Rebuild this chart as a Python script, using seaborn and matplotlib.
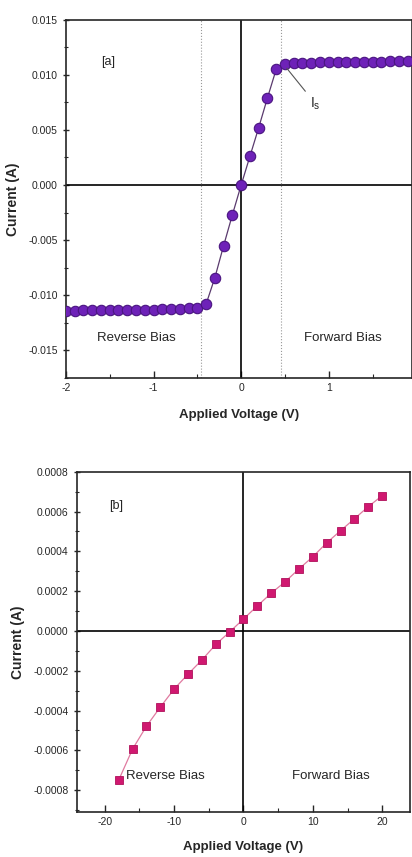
import pandas as pd
import matplotlib.pyplot as plt
import seaborn as sns
from matplotlib.ticker import MultipleLocator, FormatStrFormatter

# --- dados painel [a] (diodo, -2 a 2 V) ---
volt_a = [-2.0, -1.9, -1.8, -1.7, -1.6, -1.5, -1.4, -1.3, -1.2, -1.1, -1.0,
          -0.9, -0.8, -0.7, -0.6, -0.5, -0.4, -0.3, -0.2, -0.1, 0.0,
          0.1, 0.2, 0.3, 0.4, 0.5, 0.6, 0.7, 0.8, 0.9, 1.0,
          1.1, 1.2, 1.3, 1.4, 1.5, 1.6, 1.7, 1.8, 1.9]
curr_a = [-0.01140, -0.01139, -0.01138, -0.01137, -0.01136, -0.01135, -0.01134,
          -0.01133, -0.01132, -0.01131, -0.01130, -0.01128, -0.01126, -0.01124,
          -0.01120, -0.01112, -0.01080, -0.00840, -0.00550, -0.00270, 0.0,
          0.00260, 0.00520, 0.00790, 0.01050, 0.01100, 0.01105, 0.01108,
          0.01110, 0.01112, 0.01114, 0.01115, 0.01116, 0.01117, 0.01118,
          0.01119, 0.01120, 0.01121, 0.01122, 0.01123]

# --- dados painel [b] (-18 a 20 V) ---
volt_b = [-18, -16, -14, -12, -10, -8, -6, -4, -2, 0,
          2, 4, 6, 8, 10, 12, 14, 16, 18, 20]
curr_b = [-0.000750, -0.000594, -0.000479, -0.000383, -0.000292, -0.000217,
          -0.000146, -0.000068, -0.000005, 0.000060, 0.000126, 0.000190,
          0.000247, 0.000312, 0.000373, 0.000443, 0.000504, 0.000564,
          0.000625, 0.000680]

df_a = pd.DataFrame({'V': volt_a, 'I': curr_a})
df_b = pd.DataFrame({'V': volt_b, 'I': curr_b})

sns.set_style('ticks')
plt.rcParams['font.family'] = ['Liberation Sans', 'DejaVu Sans']
plt.rcParams['axes.unicode_minus'] = False

fig = plt.figure(figsize=(4.12, 8.57), dpi=100)
ax1 = fig.add_axes([0.160, 0.559, 0.840, 0.418])
ax2 = fig.add_axes([0.187, 0.0525, 0.808, 0.397])

# --- GRAFICO [a] ---
ax1.axhline(0, color='black', lw=1.2, zorder=1)
ax1.axvline(0, color='black', lw=1.2, zorder=1)
ax1.axvline(-0.457, color='#999999', lw=0.8, ls=':', zorder=1)
ax1.axvline(0.457, color='#999999', lw=0.8, ls=':', zorder=1)
sns.lineplot(data=df_a, x='V', y='I', ax=ax1, color='#5a3a6e', lw=0.9,
             marker='o', markersize=7.5, markerfacecolor='#6e22b8',
             markeredgecolor='#4a1580', markeredgewidth=0.8, zorder=3)
ax1.set_xlim(-2, 1.95)
ax1.set_ylim(-0.0175, 0.015)
ax1.xaxis.set_major_locator(MultipleLocator(1))
ax1.xaxis.set_minor_locator(MultipleLocator(0.5))
ax1.yaxis.set_major_locator(MultipleLocator(0.005))
ax1.yaxis.set_minor_locator(MultipleLocator(0.0025))
ax1.yaxis.set_major_formatter(FormatStrFormatter('%.3f'))
ax1.xaxis.set_major_formatter(FormatStrFormatter('%d'))
ax1.text(-1.6, 0.0112, '[a]', fontsize=9, va='center')
ax1.annotate('I$_\\mathregular{s}$', xy=(0.5, 0.0108), xytext=(0.79, 0.0070),
             fontsize=10, arrowprops=dict(arrowstyle='-', color='#555555', lw=0.8))
ax1.text(-1.2, -0.0139, 'Reverse Bias', fontsize=9.5, ha='center', va='center')
ax1.text(1.16, -0.0139, 'Forward Bias', fontsize=9.5, ha='center', va='center')
ax1.set_xlabel('Applied Voltage (V)', fontsize=9.5, fontweight='bold', labelpad=12)
ax1.set_ylabel('Current (A)', fontsize=10, fontweight='bold', labelpad=6)

# --- GRAFICO [b] ---
ax2.axhline(0, color='black', lw=1.2, zorder=1)
ax2.axvline(0, color='black', lw=1.2, zorder=1)
sns.lineplot(data=df_b, x='V', y='I', ax=ax2, color='#e07aa0', lw=0.9,
             marker='s', markersize=5.8, markerfacecolor='#d01870',
             markeredgecolor='#b0105a', markeredgewidth=0.6, zorder=3)
ax2.set_xlim(-24, 24)
ax2.set_ylim(-0.00091, 0.0008)
ax2.xaxis.set_major_locator(MultipleLocator(10))
ax2.xaxis.set_minor_locator(MultipleLocator(5))
ax2.yaxis.set_major_locator(MultipleLocator(0.0002))
ax2.yaxis.set_minor_locator(MultipleLocator(0.0001))
ax2.yaxis.set_major_formatter(FormatStrFormatter('%.4f'))
ax2.xaxis.set_major_formatter(FormatStrFormatter('%d'))
ax2.text(-19.4, 0.00063, '[b]', fontsize=9, va='center')
ax2.text(-11.2, -0.00073, 'Reverse Bias', fontsize=9.5, ha='center', va='center')
ax2.text(12.6, -0.00073, 'Forward Bias', fontsize=9.5, ha='center', va='center')
ax2.set_xlabel('Applied Voltage (V)', fontsize=9.5, fontweight='bold', labelpad=10)
ax2.set_ylabel('Current (A)', fontsize=10, fontweight='bold', labelpad=6)

for ax in (ax1, ax2):
    for s in ax.spines.values():
        s.set_linewidth(1.2)
    ax.tick_params(axis='x', which='both', direction='in', labelsize=7.5)
    ax.tick_params(axis='y', which='both', direction='inout', labelsize=7.5)
    ax.tick_params(which='major', length=5, width=1)
    ax.tick_params(which='minor', length=3, width=0.8)

fig.savefig('out.png', dpi=100)
